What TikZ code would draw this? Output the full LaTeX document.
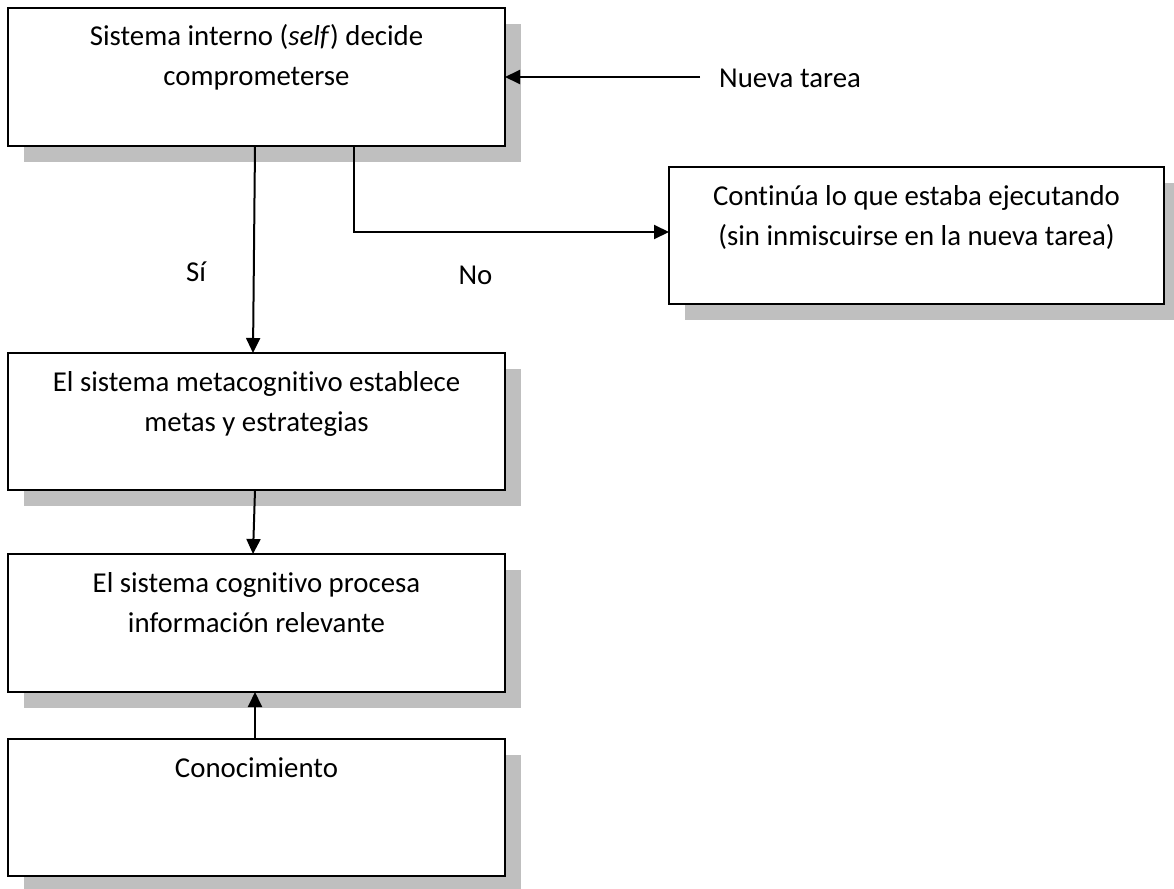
\documentclass[tikz,border=0pt]{standalone}
\usepackage{fontspec}
\setmainfont{Carlito}[Ligatures={NoCommon}]
\usetikzlibrary{arrows.meta,shadows,calc}
\definecolor{shadowgray}{RGB}{191,191,191}
\newcommand{\bxtext}[3]{\parbox[c][#2pt][t]{#1pt}{\centering\vspace*{10pt}\strut #3\strut}}
\tikzset{
  flowbox/.style={draw=black, fill=white, line width=2pt, inner sep=0pt, outer sep=0pt,
    drop shadow={shadow xshift=16pt, shadow yshift=-16pt, fill=shadowgray, opacity=1}},
  arr/.style={line width=2pt, -{Triangle[length=15pt,width=14pt]}},
  lbl/.style={inner sep=0pt, anchor=base}
}
\begin{document}
\begin{tikzpicture}[x=1pt,y=-1pt,every node/.style={font=\fontsize{28.8pt}{40pt}\selectfont}]
\useasboundingbox (0,0) rectangle (1174,888);
\node[flowbox] (b1) at (256.5,77) {\bxtext{497}{138}{Sistema interno (\textit{self}) decide\\\strut comprometerse}};
\node[flowbox] (b2) at (916.5,235.5) {\bxtext{495}{137}{Continúa lo que estaba ejecutando\\\strut (sin inmiscuirse en la nueva tarea)}};
\node[flowbox] (b3) at (256.5,421.5) {\bxtext{497}{137}{El sistema metacognitivo establece\\\strut metas y estrategias}};
\node[flowbox] (b4) at (256.5,623) {\bxtext{497}{138}{El sistema cognitivo procesa\\\strut información relevante}};
\node[flowbox] (b5) at (256.5,807.5) {\bxtext{497}{137}{Conocimiento}};
\node[lbl, anchor=base west] (nt) at (719,88) {Nueva tarea};
\node[lbl] (si) at (196,281.5) {Sí};
\node[lbl] (no) at (475.5,284) {No};
\coordinate (ntstart) at ($(nt.west)+(-19,0)$);
\draw[arr] (ntstart |- b1.east) -- (b1.east);
\draw[arr] ($(b1.south west)+(247,0)$) -- ($(b3.north west)+(245,0)$);
\coordinate (nostart) at ($(b1.south west)+(302,0)$);
\coordinate (nobend) at ($(b1.south west)+(346,86)$);
\draw[arr] (nostart) -- (nostart -| nobend) -- (nobend) -- (nobend -| b2.west);
\draw[arr] ($(b3.south west)+(247,0)$) -- ($(b4.north west)+(245,0)$);
\draw[arr] ($(b5.north west)+(247,0)$) -- ($(b4.south west)+(247,0)$);
\end{tikzpicture}
\end{document}
